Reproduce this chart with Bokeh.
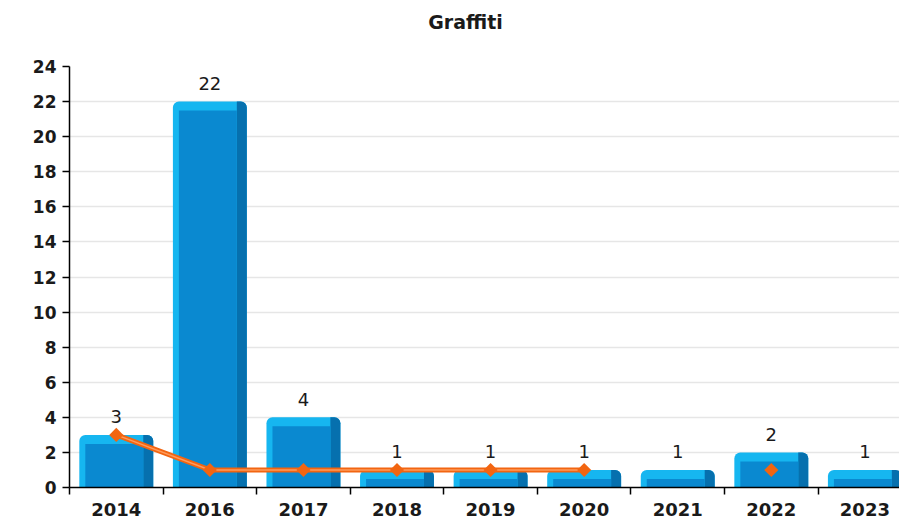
from bokeh.plotting import figure
from bokeh.models import Range1d, FixedTicker, ColumnDataSource, LinearAxis
from bokeh.core.properties import value
from bokeh.embed import file_html
from bokeh.resources import INLINE
import numpy as np

title_text = "Graffiti"
years = ["2014", "2016", "2017", "2018", "2019", "2020", "2021", "2022", "2023"]
counts = [3, 22, 4, 1, 1, 1, 1, 2, 1]
trend = [3, 1, 1, 1, 1, 1, None, 1, None]
y_ticks = list(range(0, 25, 2))

idx = np.arange(len(years), dtype=float)
cnt = np.array(counts, dtype=float)
trd = np.array([np.nan if v is None else v for v in trend], dtype=float)

W, H = 899, 519
LEFT, TOP, BOTTOM = 69, 66, 32
FRAME_W = W - LEFT
FRAME_H = H - TOP - BOTTOM
X0, X1 = -0.5, 8.37

p = figure(width=W, height=H, output_backend="svg", toolbar_location=None,
           x_range=Range1d(X0, X1), y_range=Range1d(0, 24),
           min_border_left=LEFT, min_border_right=0, min_border_top=TOP,
           min_border_bottom=BOTTOM)
p.outline_line_color = None
p.background_fill_color = "white"

# grid
p.xgrid.grid_line_color = None
p.ygrid.grid_line_color = "#e6e6e6"
p.ygrid.grid_line_width = 1.5
p.ygrid.ticker = FixedTicker(ticks=y_ticks)

# bottom axis
xa = p.below[0]
xa.ticker = FixedTicker(ticks=list(range(len(years))),
                        minor_ticks=[i - 0.5 for i in range(len(years))])
xa.major_label_overrides = {i: y for i, y in enumerate(years)}
xa.major_tick_out = 0
xa.major_tick_in = 0
xa.minor_tick_out = 7
xa.minor_tick_in = 0
xa.minor_tick_line_color = "black"
xa.minor_tick_line_width = 1.5
xa.axis_line_color = "black"
xa.axis_line_width = 1.5
xa.major_label_text_font = "DejaVu Sans"
xa.major_label_text_font_style = "bold"
xa.major_label_text_font_size = "18px"
xa.major_label_text_color = "#1a1a1a"
xa.major_label_standoff = 8

ya = p.left[0]
ya.ticker = FixedTicker(ticks=y_ticks)
ya.major_tick_out = 7
ya.major_tick_in = 0
ya.minor_tick_line_color = None
ya.axis_line_color = "black"
ya.axis_line_width = 1.5
ya.major_tick_line_width = 1.5
ya.major_label_text_font = "DejaVu Sans"
ya.major_label_text_font_style = "bold"
ya.major_label_text_font_size = "17px"
ya.major_label_text_color = "#1a1a1a"
ya.major_label_standoff = 6

# title: a label-only axis above the frame, centred at page x = 465
t_pos = round(X0 + (465 - LEFT) * (X1 - X0) / FRAME_W, 3)
title_axis = LinearAxis(ticker=FixedTicker(ticks=[t_pos], minor_ticks=[]),
                        major_label_overrides={t_pos: title_text},
                        axis_line_color=None, major_tick_line_color=None,
                        minor_tick_line_color=None, major_tick_out=0, major_tick_in=0,
                        minor_tick_out=0, minor_tick_in=0,
                        major_label_standoff=34,
                        major_label_text_font="DejaVu Sans",
                        major_label_text_font_style="bold",
                        major_label_text_font_size="19px",
                        major_label_text_color="#1a1a1a")
p.add_layout(title_axis, "above")

# 3D-looking bars
bw = 0.79
px_x = (X1 - X0) / FRAME_W
px_y = 24.0 / FRAME_H
src = ColumnDataSource(dict(
    x=idx, top=cnt,
    l_face=idx - bw / 2 + 6 * px_x, r_face=idx + bw / 2 - 10 * px_x,
    t_face=cnt - 9 * px_y,
    l_right=idx + bw / 2 - 10 * px_x, r_right=idx + bw / 2,
    lbl=[str(c) for c in counts],
    lbl_y=cnt + 18 * px_y,
))
p.vbar(x="x", top="top", bottom=0, width=bw, source=src,
       fill_color="#16b6f0", line_color=None, border_radius=(6, 6, 0, 0))
p.quad(left="l_right", right="r_right", top="top", bottom=0, source=src,
       fill_color="#0670ae", line_color=None, border_radius=(0, 6, 0, 0))
p.quad(left="l_face", right="r_face", top="t_face", bottom=0, source=src,
       fill_color="#0a89d0", line_color=None)

p.text(x="x", y="lbl_y", text="lbl", source=src, text_align="center",
       text_baseline="middle",
       text_font=value("DejaVu Sans"), text_font_size="18px", text_color="#1a1a1a")

# trend line
lsrc = ColumnDataSource(dict(x=idx, y=trd))
p.line(x="x", y="y", source=lsrc, line_color="#f26511", line_width=5)
p.line(x="x", y="y", source=lsrc, line_color="#ff9a5a", line_width=1.5)
p.scatter(x="x", y="y", source=lsrc, marker="square", size=10, angle=np.pi / 4,
          fill_color="#f26511", line_color=None)

open("out.html", "w").write(file_html(p, INLINE))
